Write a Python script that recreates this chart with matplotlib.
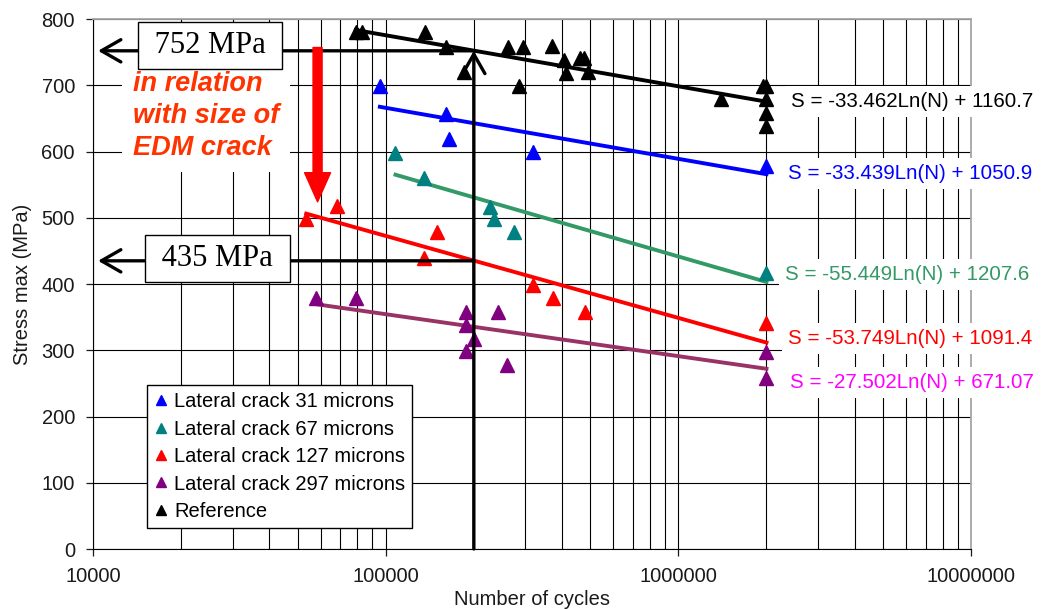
import numpy as np
import matplotlib.pyplot as plt
from matplotlib.ticker import FuncFormatter, NullFormatter

plt.rcParams['font.family'] = ['Liberation Sans', 'DejaVu Sans']

# data (cycles, max stress MPa)
blue_N = [95500, 161000, 165000, 318000, 2000000]
blue_S = [699, 657, 619, 599, 578]

teal_N = [108000, 135000, 227000, 234000, 274000, 2000000]
teal_S = [598, 560, 516, 498, 478, 417]

red_N = [53500, 68000, 135000, 150000, 318000, 372000, 480000, 2000000]
red_S = [498, 518, 439, 478, 398, 379, 358, 341]

purple_N = [58000, 79000, 188000, 188000, 188000, 200000, 242000, 260000, 2000000, 2000000]
purple_S = [379, 379, 358, 338, 299, 317, 358, 278, 297, 258]

ref_N = [79000, 83000, 136000, 161000, 185000, 262000, 285000, 294000, 370000, 407000,
         413000, 461000, 475000, 491000, 1400000, 1950000, 2000000, 2000000, 2000000, 2000000]
ref_S = [780, 780, 780, 758, 720, 758, 699, 758, 760, 738,
         718, 741, 741, 720, 679, 699, 699, 679, 658, 638]

labels = ['Lateral crack 31 microns', 'Lateral crack 67 microns', 'Lateral crack 127 microns',
          'Lateral crack 297 microns', 'Reference']
# trend line fits shown on the chart: S = a*Ln(N) + b
fit_a = [-33.439, -55.449, -53.749, -27.502, -33.462]
fit_b = [1050.9, 1207.6, 1091.4, 671.07, 1160.7]

marker_colors = ['#0000ff', '#008080', '#ff0000', '#800080', '#000000']
line_colors = ['#0000ff', '#339966', '#ff0000', '#993366', '#000000']
eq_colors = ['#0000ff', '#339966', '#ff0000', '#ff00ff', '#000000']
eq_pos = [(2.37e6, 567), (2.31e6, 414), (2.37e6, 318), (2.40e6, 251), (2.43e6, 675)]

series = [(blue_N, blue_S), (teal_N, teal_S), (red_N, red_S), (purple_N, purple_S), (ref_N, ref_S)]

fig = plt.figure(figsize=(10.42, 6.09), dpi=100)
ax = fig.add_axes([0.0893, 0.0985, 0.8426, 0.8703])

for i, (N, S) in enumerate(series):
    ax.plot(N, S, '^', ls='none', color=marker_colors[i], ms=10, label=labels[i], zorder=4)
    n = np.array([min(N), max(N)])
    ax.plot(n, fit_a[i] * np.log(n) + fit_b[i], color=line_colors[i], lw=2.8, zorder=3)
    eq = 'S = %gLn(N) + %g' % (fit_a[i], fit_b[i])
    ax.text(eq_pos[i][0], eq_pos[i][1], eq, color=eq_colors[i], fontsize=14.8,
            ha='left', va='center', clip_on=False, zorder=3,
            bbox=dict(boxstyle='square,pad=0.3', fc='white', ec='none'))

ax.set_xscale('log')
ax.set_xlim(1e4, 1e7)
ax.set_ylim(0, 800)
ax.set_yticks(range(0, 801, 100))
ax.xaxis.set_major_formatter(FuncFormatter(lambda v, p: '%d' % round(v)))
ax.xaxis.set_minor_formatter(NullFormatter())
ax.set_axisbelow(True)
ax.grid(which='both', color='black', lw=0.8)
ax.tick_params(which='major', direction='out', length=5, width=0.9, labelsize=14.5,
               pad=8, colors='#1a1a1a')
ax.tick_params(which='minor', length=0)
for s in ['top', 'right']:
    ax.spines[s].set_color('#a6a6a6')
    ax.spines[s].set_linewidth(1.3)
for s in ['left', 'bottom']:
    ax.spines[s].set_color('black')
ax.set_xlabel('Number of cycles', fontsize=14.5, labelpad=3, color='#1a1a1a')
ax.set_ylabel('Stress max (MPa)', fontsize=14.5, labelpad=7, color='#1a1a1a')

# stress level arrows
arr = dict(arrowstyle='->,head_length=1.4,head_width=0.8', lw=2.4, color='black',
           mutation_scale=10, shrinkA=0, shrinkB=0)
ax.annotate('', xy=(10400, 752), xytext=(2e5, 752), arrowprops=arr, zorder=5)
ax.annotate('', xy=(10400, 435), xytext=(2e5, 435), arrowprops=arr, zorder=5)
ax.annotate('', xy=(2e5, 752), xytext=(2e5, 0), arrowprops=arr, zorder=5)

box = dict(boxstyle='square,pad=0.3', fc='white', ec='black', lw=1)
ax.text(25100, 760, ' 752 MPa ', family='Liberation Serif', fontsize=22,
        ha='center', va='center', bbox=box, zorder=6)
ax.text(26600, 439, ' 435 MPa ', family='Liberation Serif', fontsize=22,
        ha='center', va='center', bbox=box, zorder=6)

# red arrow and note
ax.annotate('', xy=(58500, 524), xytext=(58500, 757),
            arrowprops=dict(fc='#ff0000', ec='#ff0000', width=6.5, headwidth=18.7,
                            headlength=21, shrink=0), zorder=5)
ax.text(13700, 653, 'in relation\nwith size of\nEDM crack', color='#ff3300', fontsize=19.5,
        fontweight='bold', fontstyle='italic', ha='left', va='center', linespacing=1.3,
        zorder=2.6, bbox=dict(boxstyle='square,pad=0.4', fc='white', ec='none'))

leg = ax.legend(loc='lower left', bbox_to_anchor=(0.0615, 0.0396), borderaxespad=0,
                fontsize=14.5, fancybox=False, edgecolor='black', framealpha=1,
                handlelength=0.7, handletextpad=0.3, labelspacing=0.42, borderpad=0.35,
                markerscale=0.75, numpoints=1)
leg.get_frame().set_linewidth(1)
leg.set_zorder(7)

fig.savefig('out.png', dpi=100)
